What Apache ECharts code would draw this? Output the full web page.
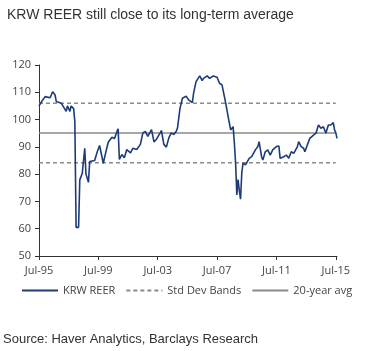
<!DOCTYPE html>
<html>
<head>
<meta charset="utf-8">
<script src="https://cdn.jsdelivr.net/npm/echarts@6/dist/echarts.min.js"></script>
<style>
  html, body { margin: 0; padding: 0; background: #fff; }
  #chart { width: 365px; height: 351px; }
</style>
</head>
<body>
<div id="chart"></div>
<script>
// months, 'YYYY-MM'
var months = [
    '1995-07', '1995-09', '1995-12', '1996-04', '1996-06', '1996-08', '1996-09', '1997-01',
    '1997-05', '1997-06', '1997-08', '1997-09', '1997-11', '1997-12', '1998-01', '1998-03',
    '1998-04', '1998-06', '1998-08', '1998-09', '1998-11', '1998-12', '1999-04', '1999-06',
    '1999-08', '1999-11', '2000-01', '2000-03', '2000-06', '2000-08', '2000-10', '2000-11',
    '2000-12', '2001-02', '2001-04', '2001-06', '2001-09', '2001-11', '2002-02', '2002-05',
    '2002-07', '2002-09', '2002-11', '2003-02', '2003-04', '2003-06', '2003-09', '2003-10',
    '2003-12', '2004-02', '2004-04', '2004-06', '2004-08', '2004-10', '2004-11', '2005-01',
    '2005-03', '2005-06', '2005-08', '2005-11', '2005-12', '2006-02', '2006-05', '2006-07',
    '2006-08', '2006-11', '2007-01', '2007-04', '2007-07', '2007-09', '2007-11', '2008-02',
    '2008-04', '2008-06', '2008-08', '2008-09', '2008-10', '2008-11', '2008-12', '2009-01',
    '2009-02', '2009-03', '2009-04', '2009-06', '2009-09', '2009-11', '2010-02', '2010-04',
    '2010-05', '2010-07', '2010-08', '2010-10', '2010-12', '2011-02', '2011-04', '2011-05',
    '2011-07', '2011-09', '2011-10', '2012-01', '2012-03', '2012-05', '2012-07', '2012-09',
    '2012-12', '2013-01', '2013-03', '2013-05', '2013-06', '2013-08', '2013-10', '2014-01',
    '2014-03', '2014-05', '2014-07', '2014-09', '2014-11', '2015-01', '2015-03', '2015-05',
    '2015-06', '2015-07', '2015-08'
];
var reer = [
    105, 106.5, 108.4, 108, 110.2, 109, 106.6, 106,
    103, 105, 103, 105, 104, 99.2, 60.5, 60.5,
    77.9, 80.3, 89.5, 80, 77, 84.6, 85, 88,
    90.5, 84, 88, 91.7, 93.5, 93, 95.5, 96.6,
    85.4, 87.2, 86, 89, 87.8, 89.5, 89, 90.9,
    95.1, 95.7, 93.8, 96.3, 91.8, 92.8, 95.1, 96,
    90.9, 89.9, 93.3, 95.1, 94.5, 95.7, 96.9, 104,
    107.8, 108.6, 107.2, 106.2, 109.6, 113.9, 116, 114.3,
    115.1, 116, 115.1, 116, 115.5, 113.3, 112.7, 106,
    101, 96.2, 97.4, 91.3, 84, 72.4, 78, 74,
    70.8, 80.5, 84, 83.4, 85.8, 86.4, 88.9, 90.1,
    91.9, 86.4, 85.2, 88.2, 88.9, 87, 88.9, 89.5,
    90.1, 90.3, 85.8, 86.4, 87, 85.8, 88.2, 87.6,
    90.1, 91.9, 90.1, 89.5, 88.2, 90.7, 93.1, 94.3,
    95, 98, 96.8, 97.4, 95, 98, 98, 98.9,
    96.2, 95.2, 93.1
];
var avg20 = 95.1;
var bandUpper = 106.0;
var bandLower = 84.2;
var lineStart = '1995-07', lineEnd = '2015-07';
var tickMonths = ['1995-07', '1999-07', '2003-07', '2007-07', '2011-07', '2015-07'];
var monNames = ['Jan', 'Feb', 'Mar', 'Apr', 'May', 'Jun', 'Jul', 'Aug', 'Sep', 'Oct', 'Nov', 'Dec'];

// month offset from Jul-95
function idx(s) {
    var p = s.split('-');
    return (parseInt(p[0], 10) - 1995) * 12 + (parseInt(p[1], 10) - 7);
}
function label(v) {
    var y = 1995 + Math.floor((v + 6) / 12);
    var m = (v + 6) % 12;
    return monNames[m] + '-' + String(y).slice(2);
}
function flat(val) {
    return [[idx(lineStart), val], [idx(lineEnd), val]];
}

var reerData = [];
for (var i = 0; i < months.length; i++) {
    reerData.push([idx(months[i]), reer[i]]);
}
var ticks = tickMonths.map(idx);

var chart = echarts.init(document.getElementById('chart'));
var axisFont = {fontFamily: 'Open Sans', fontSize: 11, color: '#444'};
var navy = '#1d3b78', grey = '#8a8a8a';

chart.setOption({
    animation: false,
    title: {
        text: 'KRW REER still close to its long-term average',
        left: 2, top: 3,
        textStyle: {fontFamily: 'Liberation Sans', fontSize: 14, fontWeight: 'normal', color: '#333'}
    },
    graphic: [{
        type: 'text', left: 3, top: 333,
        style: {text: 'Source: Haver Analytics, Barclays Research', font: '13px Liberation Sans', fill: '#333'}
    }],
    legend: {
        top: 280, left: 16,
        itemWidth: 36, itemHeight: 10, itemGap: 10,
        itemStyle: {opacity: 0},
        textStyle: {fontFamily: 'Open Sans', fontSize: 11, color: '#444'},
        data: ['KRW REER', 'Std Dev Bands', '20-year avg']
    },
    grid: {left: 39, right: 28, top: 65, bottom: 95},
    xAxis: {
        type: 'value', min: 0, max: 241,
        axisLine: {lineStyle: {color: '#333', width: 1}},
        axisTick: {customValues: ticks, length: 4, lineStyle: {color: '#333'}},
        axisLabel: Object.assign({customValues: ticks, margin: 9, formatter: label}, axisFont),
        splitLine: {show: false}
    },
    yAxis: {
        type: 'value', min: 50, max: 120, interval: 10,
        axisLine: {show: true, lineStyle: {color: '#333', width: 1}},
        axisTick: {show: true, length: 4, lineStyle: {color: '#333'}},
        axisLabel: Object.assign({margin: 8}, axisFont),
        splitLine: {show: false}
    },
    series: [{
        name: 'Std Dev Bands', type: 'line', data: flat(bandUpper), symbol: 'none',
        itemStyle: {color: grey},
        lineStyle: {color: grey, width: 1.5, type: [4, 3]}, z: 1
    }, {
        name: 'Std Dev Bands', type: 'line', data: flat(bandLower), symbol: 'none',
        itemStyle: {color: grey},
        lineStyle: {color: grey, width: 1.5, type: [4, 3]}, z: 1
    }, {
        name: '20-year avg', type: 'line', data: flat(avg20), symbol: 'none',
        itemStyle: {color: grey},
        lineStyle: {color: grey, width: 1.5}, z: 1
    }, {
        name: 'KRW REER', type: 'line', data: reerData, symbol: 'none',
        itemStyle: {color: navy},
        lineStyle: {color: navy, width: 1.6}, z: 3
    }]
});
</script>
</body>
</html>
